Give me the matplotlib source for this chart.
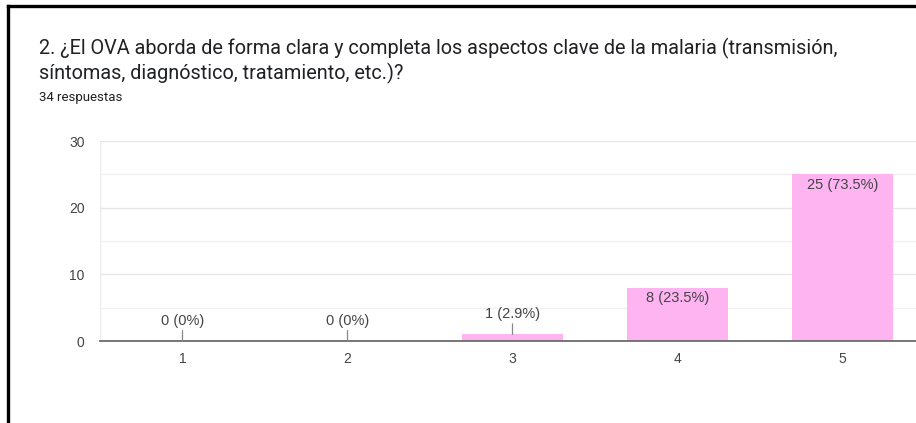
import matplotlib
matplotlib.use("Agg")
import matplotlib.pyplot as plt
from matplotlib.ticker import MultipleLocator

categories = ["1", "2", "3", "4", "5"]
counts = [0, 0, 1, 8, 25]
labels = ["0 (0%)", "0 (0%)", "1 (2.9%)", "8 (23.5%)", "25 (73.5%)"]
title_lines = ["2. ¿El OVA aborda de forma clara y completa los aspectos clave de la malaria (transmisión,",
               "síntomas, diagnóstico, tratamiento, etc.)?"]
subtitle = "34 respuestas"
yticks = [0, 10, 20, 30]

W, H = 916, 423
fig = plt.figure(figsize=(W / 100, H / 100), dpi=100)
fig.patch.set_facecolor("white")

ax_left, ax_right, ax_top, ax_bottom = 100, 916, 141, 341
ax = fig.add_axes([ax_left / W, 1 - ax_bottom / H, (ax_right - ax_left) / W, (ax_bottom - ax_top) / H])
band = 165.0
x = list(range(1, len(categories) + 1))
ax.set_xlim(0.5, 0.5 + (ax_right - ax_left) / band)
ax.set_ylim(0, 30)

pink = "#fdb4f0"
ax.bar(x, counts, width=0.615, color=pink, zorder=2)

ax.yaxis.set_major_locator(MultipleLocator(10))
ax.yaxis.set_minor_locator(MultipleLocator(5))
ax.grid(axis="y", which="major", color="#e6e6e6", lw=1.0, zorder=0)
ax.grid(axis="y", which="minor", color="#f0f0f0", lw=1.0, zorder=0)
for s in ["top", "right", "left"]:
    ax.spines[s].set_visible(False)
ax.spines["bottom"].set_color("#6b6b6b")
ax.spines["bottom"].set_linewidth(1.3)
ax.spines["bottom"].set_zorder(3)
ax.axvline(0.5, color="#ececec", lw=1, zorder=0)

ax.set_xticks(x)
ax.set_xticklabels(categories)
ax.set_yticks(yticks)
ax.tick_params(axis="both", which="both", length=0, labelsize=10, labelcolor="#444444",
               labelfontfamily="Liberation Sans")
ax.tick_params(axis="x", pad=8)
ax.tick_params(axis="y", pad=11)

for xi, c, lab in zip(x, counts, labels):
    if c >= 3:
        ax.annotate(lab, (xi, c), xytext=(0, -2.5), textcoords="offset points",
                    ha="center", va="top", fontsize=10.5, color="#444444",
                    family="Liberation Sans", zorder=4)
    else:
        ax.annotate(lab, (xi, c), xytext=(0, 9.5), textcoords="offset points",
                    ha="center", va="bottom", fontsize=10.5, color="#444444",
                    family="Liberation Sans", zorder=4,
                    arrowprops=dict(arrowstyle="-", color="#888888", lw=0.9,
                                    shrinkA=0, shrinkB=0))

fig.text(39 / W, 1 - 48 / H, title_lines[0], ha="left", va="center", fontsize=14.3,
         color="#202124", family="Roboto")
fig.text(39 / W, 1 - 73 / H, title_lines[1], ha="left", va="center", fontsize=14.3,
         color="#202124", family="Roboto")
fig.text(39 / W, 1 - 98 / H, subtitle, ha="left", va="center", fontsize=9.5,
         color="#202124", family="Roboto")

# screenshot frame (left and top black borders)
fig.add_artist(plt.Line2D([8 / W, 8 / W], [0, 1 - 6 / H], transform=fig.transFigure,
                          color="black", lw=2.4))
fig.add_artist(plt.Line2D([8 / W, 1], [1 - 6 / H, 1 - 6 / H], transform=fig.transFigure,
                          color="black", lw=2.4))

fig.savefig("out.png", dpi=100, facecolor="white")
